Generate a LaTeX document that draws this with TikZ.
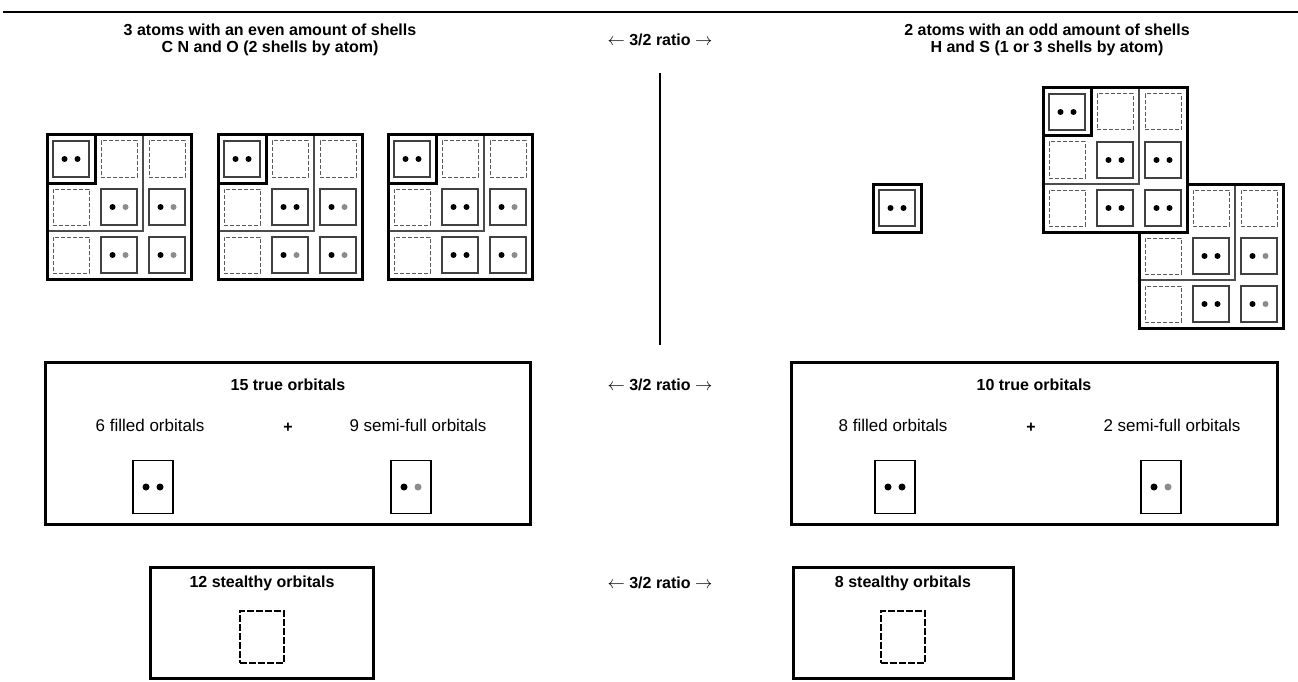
\documentclass[tikz,border=0pt]{standalone}
\usepackage{fontspec}
\setmainfont{Liberation Sans}
\usetikzlibrary{positioning}

\tikzset{
  thickline/.style={line width=3pt},
  shellline/.style={line width=1.2pt, draw=black!70},
  orb/.style={draw=black!75, line width=1.3pt, minimum width=36pt, minimum height=36pt, inner sep=0pt},
  emptyorb/.style={orb, draw=black!65, line width=1pt, dash pattern=on 4pt off 2pt},
  bigorb/.style={draw, line width=1.5pt, minimum width=40pt, minimum height=53pt, inner sep=0pt},
  stealthorb/.style={draw, line width=2.6pt, dash pattern=on 7pt off 2pt, minimum width=44pt, minimum height=52pt, inner sep=0pt},
  bigbox/.style={draw, line width=3pt, inner sep=0pt},
  hdr/.style={font=\bfseries\fontsize{16}{17}\selectfont, align=center},
  txt/.style={font=\fontsize{17}{18}\selectfont},
}

% one orbital of an atom: name, centre
\newcommand{\orbf}[2]{\node[orb] (#1) at (#2) {};
  \fill (#1.center) +(-6.5pt,0) circle (3pt) +(6.5pt,0) circle (3pt);}
\newcommand{\orbh}[2]{\node[orb] (#1) at (#2) {};
  \fill (#1.center) +(-6.5pt,0) circle (3pt);
  \fill[black!45] (#1.center) +(6.5pt,0) circle (3pt);}
\newcommand{\orbs}[2]{\node[emptyorb] (#1) at (#2) {};}
\newcommand{\orbx}[2]{}
% a row of three cells: prefix, x of first centre, y, types
\newcommand{\orbrow}[6]{%
  \csname orb#4\endcsname{#1a}{#2,#3}
  \csname orb#5\endcsname{#1b}{#2+48,#3}
  \csname orb#6\endcsname{#1c}{#2+96,#3}}
% frame of a 3x3 atom with its shells: x, y of top left corner
\newcommand{\atomframe}[2]{%
  \draw[shellline] (#1+96,#2) -- (#1+96,#2+96) -- (#1,#2+96);
  \draw[thickline] (#1+48,#2) -- (#1+48,#2+48) -- (#1,#2+48);
  \draw[thickline] (#1,#2) rectangle (#1+144,#2+144);}
% the two dots of a big orbital box
\newcommand{\twodots}[2]{%
  \fill (#1.center) +(-7pt,0) circle (3.5pt);
  \fill[#2] (#1.center) +(7pt,0) circle (3.5pt);}

\begin{document}
\begin{tikzpicture}[x=1pt,y=-1pt]
\useasboundingbox (0,0) rectangle (1298,682);

% top rule and separator
\coordinate (ruleL) at (3,12);
\coordinate (ruleR) at (1298,12);
\draw[line width=2pt] (ruleL) -- (ruleR);
\coordinate (vtop) at (660,73);
\coordinate (vbot) at (660,345);
\draw[line width=1.5pt] (vtop) -- (vbot);

% headers
\node[hdr] (headL) at (270,40) {3 atoms with an even amount of shells\\C N and O (2 shells by atom)};
\node[hdr] (headR) at (1047,40) {2 atoms with an odd amount of shells\\H and S (1 or 3 shells by atom)};
\node[hdr] (ratioA) at (660,40) {$\leftarrow$ 3/2 ratio $\rightarrow$};

% C
\orbrow{C1}{71}{159}{f}{s}{s}
\orbrow{C2}{71}{207}{s}{h}{h}
\orbrow{C3}{71}{255}{s}{h}{h}
\atomframe{47}{135}
% N
\orbrow{N1}{242}{159}{f}{s}{s}
\orbrow{N2}{242}{207}{s}{f}{h}
\orbrow{N3}{242}{255}{s}{h}{h}
\atomframe{218}{135}
% O
\orbrow{O1}{412}{159}{f}{s}{s}
\orbrow{O2}{412}{207}{s}{f}{h}
\orbrow{O3}{412}{255}{s}{f}{h}
\atomframe{388}{135}

% H
\orbf{H}{897,208}
\draw[thickline] (873,184) rectangle (921,232);

% S, upper part
\orbrow{S1}{1067}{112}{f}{s}{s}
\orbrow{S2}{1067}{160}{s}{f}{f}
\orbrow{S3}{1067}{208}{s}{f}{f}
\atomframe{1043}{88}
% S, lower part
\orbrow{S4}{1163}{208}{x}{s}{s}
\orbrow{S5}{1163}{256}{s}{f}{h}
\orbrow{S6}{1163}{304}{s}{f}{h}
\draw[shellline] (1235,184) -- (1235,280) -- (1139,280);
\draw[thickline] (1187,184) -- (1283,184) -- (1283,328) -- (1139,328) -- (1139,232);

% true orbitals
\node[bigbox, minimum width=485pt, minimum height=162pt] (trueL) at (287.5,443.5) {};
\node[hdr] (trueLt) at (288,385) {15 true orbitals};
\node[txt] (fillL) at (150,425) {6 filled orbitals};
\node[hdr] (plusL) at (288,428) {+};
\node[txt] (semiL) at (418,425) {9 semi-full orbitals};
\node[bigorb] (fboxL) at (153,487) {};
\node[bigorb] (sboxL) at (411,487) {};
\twodots{fboxL}{black}
\twodots{sboxL}{black!45}

\node[hdr] (ratioB) at (660,385) {$\leftarrow$ 3/2 ratio $\rightarrow$};

\node[bigbox, minimum width=486pt, minimum height=162pt] (trueR) at (1034,443.5) {};
\node[hdr] (trueRt) at (1034,385) {10 true orbitals};
\node[txt] (fillR) at (893,425) {8 filled orbitals};
\node[hdr] (plusR) at (1031,428) {+};
\node[txt] (semiR) at (1172,425) {2 semi-full orbitals};
\node[bigorb] (fboxR) at (895,487) {};
\node[bigorb] (sboxR) at (1161,487) {};
\twodots{fboxR}{black}
\twodots{sboxR}{black!45}

% stealthy orbitals
\node[bigbox, minimum width=223pt, minimum height=111pt] (stealL) at (261.5,622.5) {};
\node[hdr] (stealLt) at (262,583) {12 stealthy orbitals};
\node[stealthorb] (dboxL) at (262,637) {};

\node[hdr] (ratioC) at (660,583) {$\leftarrow$ 3/2 ratio $\rightarrow$};

\node[bigbox, minimum width=220pt, minimum height=111pt] (stealR) at (903,622.5) {};
\node[hdr] (stealRt) at (903,583) {8 stealthy orbitals};
\node[stealthorb] (dboxR) at (903,637) {};
\end{tikzpicture}
\end{document}
